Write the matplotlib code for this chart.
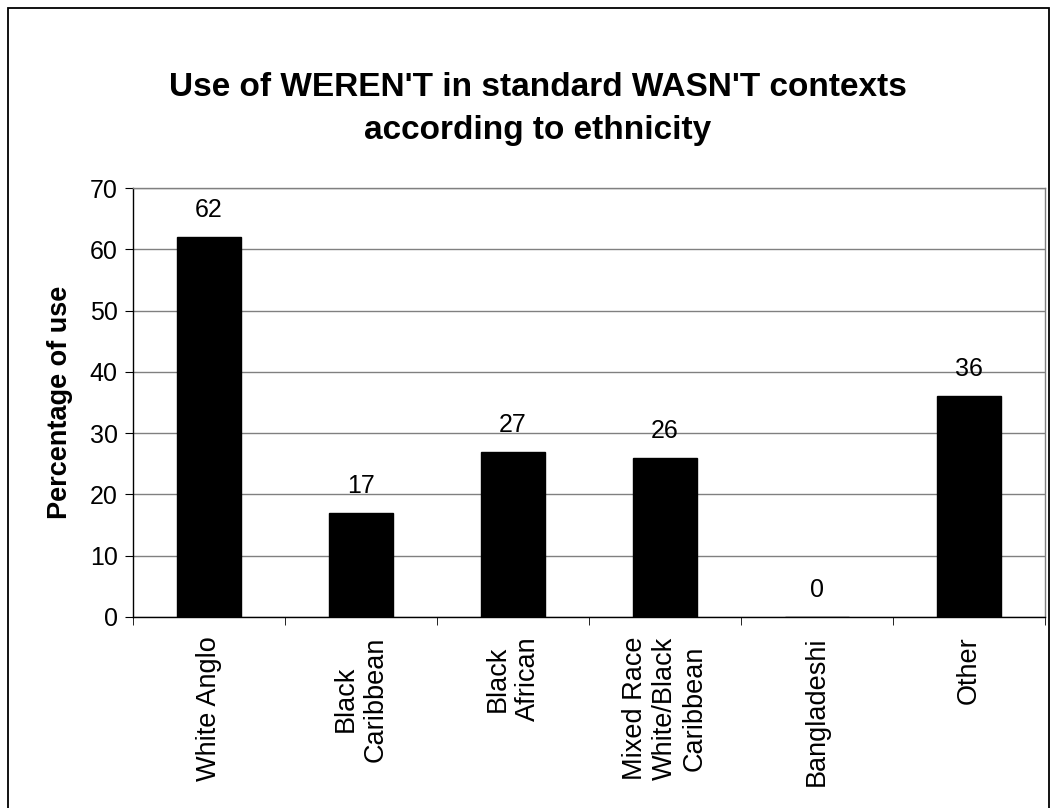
import matplotlib
matplotlib.use("Agg")
import matplotlib.pyplot as plt
from matplotlib.patches import Rectangle
import numpy as np

categories = ["White Anglo", "Black\nCaribbean", "Black\nAfrican",
              "Mixed Race\nWhite/Black\nCaribbean", "Bangladeshi", "Other"]
values = [62, 17, 27, 26, 0, 36]
yticks = [0, 10, 20, 30, 40, 50, 60, 70]

plt.rcParams["font.family"] = ["Liberation Sans", "DejaVu Sans"]

W, H = 1051, 808
fig = plt.figure(figsize=(W / 100, H / 100), dpi=100)
fig.patch.set_facecolor("white")

# outer chart-area frame
fig.add_artist(Rectangle((8 / W, -0.02), (1049 - 8) / W, (H - 8) / H + 0.02,
                         transform=fig.transFigure, fill=False,
                         edgecolor="black", linewidth=1.3))

left, right, top, bottom = 133, 1045, 188, 617
ax = fig.add_axes([left / W, (H - bottom) / H, (right - left) / W, (bottom - top) / H])

x = np.arange(len(categories))
ax.bar(x, values, width=0.42, color="black", edgecolor="black", zorder=3)

ax.set_xlim(-0.5, len(categories) - 0.5)
ax.set_ylim(0, 70)
ax.set_yticks(yticks)
ax.set_yticklabels([str(v) for v in yticks], fontsize=18)
ax.yaxis.grid(True, color="#808080", linewidth=1.0, zorder=0)
ax.set_axisbelow(True)

ax.set_xticks(x)
ax.set_xticklabels(categories, rotation=90, fontsize=19.5, va="top", ha="center",
                   multialignment="center")
ax.set_xticks(np.arange(-0.5, len(categories)), minor=True)
ax.tick_params(axis="x", which="major", length=0, pad=14)
ax.tick_params(axis="x", which="minor", length=6, direction="out", color="black")
ax.tick_params(axis="y", length=6, direction="out", color="black", pad=5)

for side in ("top", "right"):
    ax.spines[side].set_color("#808080")
for side in ("left", "bottom"):
    ax.spines[side].set_color("black")
for s in ax.spines.values():
    s.set_linewidth(1.0)

for xi, v in zip(x, values):
    ax.annotate(str(v), (xi, v), xytext=(0, 14.4), textcoords="offset points",
                ha="center", va="baseline", fontsize=18)

ax.set_ylabel("Percentage of use", fontsize=19.5, fontweight="bold", labelpad=12)

fig.text(538 / W, 1 - 109 / H,
         "Use of WEREN'T in standard WASN'T contexts\naccording to ethnicity",
         ha="center", va="center", fontsize=24, fontweight="bold", linespacing=1.47)

fig.savefig("out.png", dpi=100)
